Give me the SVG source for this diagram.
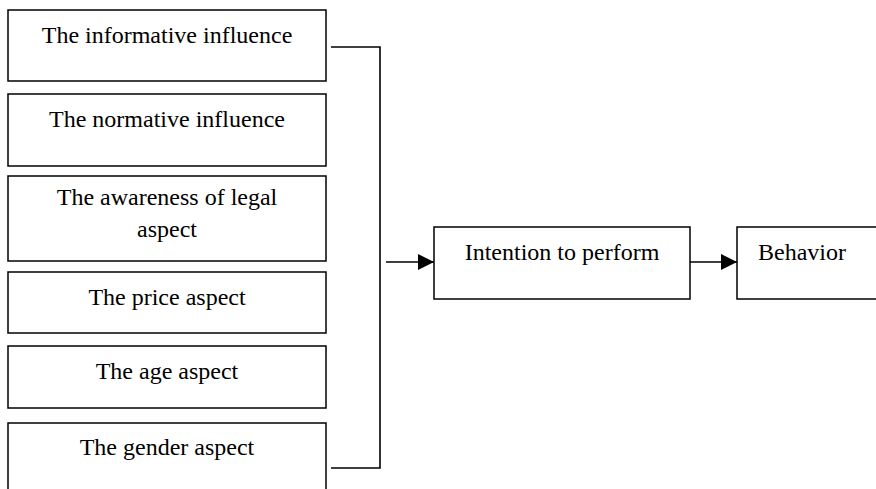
<svg xmlns="http://www.w3.org/2000/svg" width="876" height="489" viewBox="0 0 876 489">
<style>
.box{fill:#fff;stroke:#000;stroke-width:1.5}
.t{font-family:'Liberation Serif','DejaVu Serif','Times New Roman',Times,serif;font-size:24px;fill:#000;text-anchor:middle}
.c{fill:none;stroke:#000;stroke-width:1.6}
</style>
<defs>
<marker id="ah" markerWidth="16" markerHeight="16" refX="16" refY="8" orient="auto" markerUnits="userSpaceOnUse">
<path d="M0,0 L16,8 L0,16 Z" fill="#000"/>
</marker>
</defs>
<rect width="876" height="489" fill="#fff"/>
<g id="n1"><rect class="box" x="8" y="10" width="318" height="71"/><text class="t" x="167" y="43">The informative influence</text></g>
<g id="n2"><rect class="box" x="8" y="94" width="318" height="72"/><text class="t" x="167" y="127">The normative influence</text></g>
<g id="n3"><rect class="box" x="8" y="176" width="318" height="85"/><text class="t" x="167" y="205">The awareness of legal</text><text class="t" x="167" y="237">aspect</text></g>
<g id="n4"><rect class="box" x="8" y="272" width="318" height="61"/><text class="t" x="167" y="305">The price aspect</text></g>
<g id="n5"><rect class="box" x="8" y="346" width="318" height="62"/><text class="t" x="167" y="379">The age aspect</text></g>
<g id="n6"><rect class="box" x="8" y="423" width="318" height="90"/><text class="t" x="167" y="455">The gender aspect</text></g>
<g id="n7"><rect class="box" x="434" y="227" width="256" height="72"/><text class="t" x="562" y="260">Intention to perform</text></g>
<g id="n8"><rect class="box" x="737" y="227" width="160" height="72"/><text class="t" x="758" y="260" style="text-anchor:start">Behavior</text></g>
<g id="connectors">
<path class="c" d="M331,47 H380 V468 H331"/>
<path class="c" d="M386,262 H434" marker-end="url(#ah)"/>
<path class="c" d="M690,262 H737" marker-end="url(#ah)"/>
</g>
</svg>
